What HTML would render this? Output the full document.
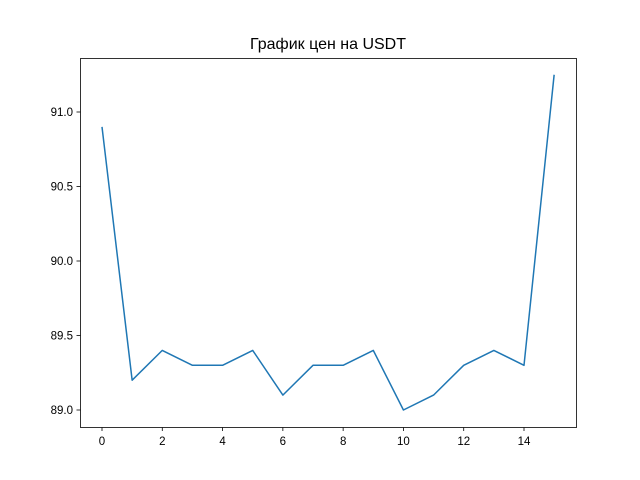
<!DOCTYPE html>
<html><head><meta charset="utf-8"><style>
body{margin:0;background:#fff;}
svg{display:block;font-family:"Liberation Sans","DejaVu Sans",sans-serif;}
</style></head><body>
<svg id="chart" width="640" height="480">
<rect width="640" height="480" fill="#fff"/>
<text x="328" y="49" text-anchor="middle" font-size="16" fill="#000">График цен на USDT</text>
<g id="plot"></g>
</svg>
<script>
const xValues=[0,1,2,3,4,5,6,7,8,9,10,11,12,13,14,15];
const prices=[90.9,89.2,89.4,89.3,89.3,89.4,89.1,89.3,89.3,89.4,89.0,89.1,89.3,89.4,89.3,91.25];
const xTicks=[0,2,4,6,8,10,12,14];
const yTicks=[89.0,89.5,90.0,90.5,91.0];
const yTickLabels=["89.0","89.5","90.0","90.5","91.0"];

const L=80,R=576,T=58,B=427;
const xs=v=>102+v*(524-102)/14;
const ys=v=>410-(v-89)*149;
const ns="http://www.w3.org/2000/svg";
const g=document.getElementById('plot');
function mk(t,a){const e=document.createElementNS(ns,t);for(const k in a)e.setAttribute(k,a[k]);g.appendChild(e);return e;}

const line=mk('polyline',{points:xValues.map((x,i)=>xs(x)+','+ys(prices[i])).join(' '),fill:'none',stroke:'#1f77b4','stroke-width':1.5,'stroke-linejoin':'round'});



const frame=mk('rect',{x:L+0.5,y:T+0.5,width:R-L,height:B-T,fill:'none',stroke:'#000','stroke-width':0.8});



xTicks.forEach(v=>{
  const x=xs(v);
  mk('line',{x1:x,x2:x,y1:B+0.5,y2:B+4,stroke:'#000','stroke-width':0.8});
  const t=mk('text',{x:x,y:B+18,'text-anchor':'middle','font-size':11.5,fill:'#000'});
  t.textContent=v;
  
  
});
yTicks.forEach((v,i)=>{
  const y=ys(v);
  mk('line',{x1:L-3.5,x2:L+0.5,y1:y,y2:y,stroke:'#000','stroke-width':0.8});
  const t=mk('text',{x:L-7,y:y+4,'text-anchor':'end','font-size':11.5,fill:'#000'});
  t.textContent=yTickLabels[i];
  
  
});
</script>
</body></html>
